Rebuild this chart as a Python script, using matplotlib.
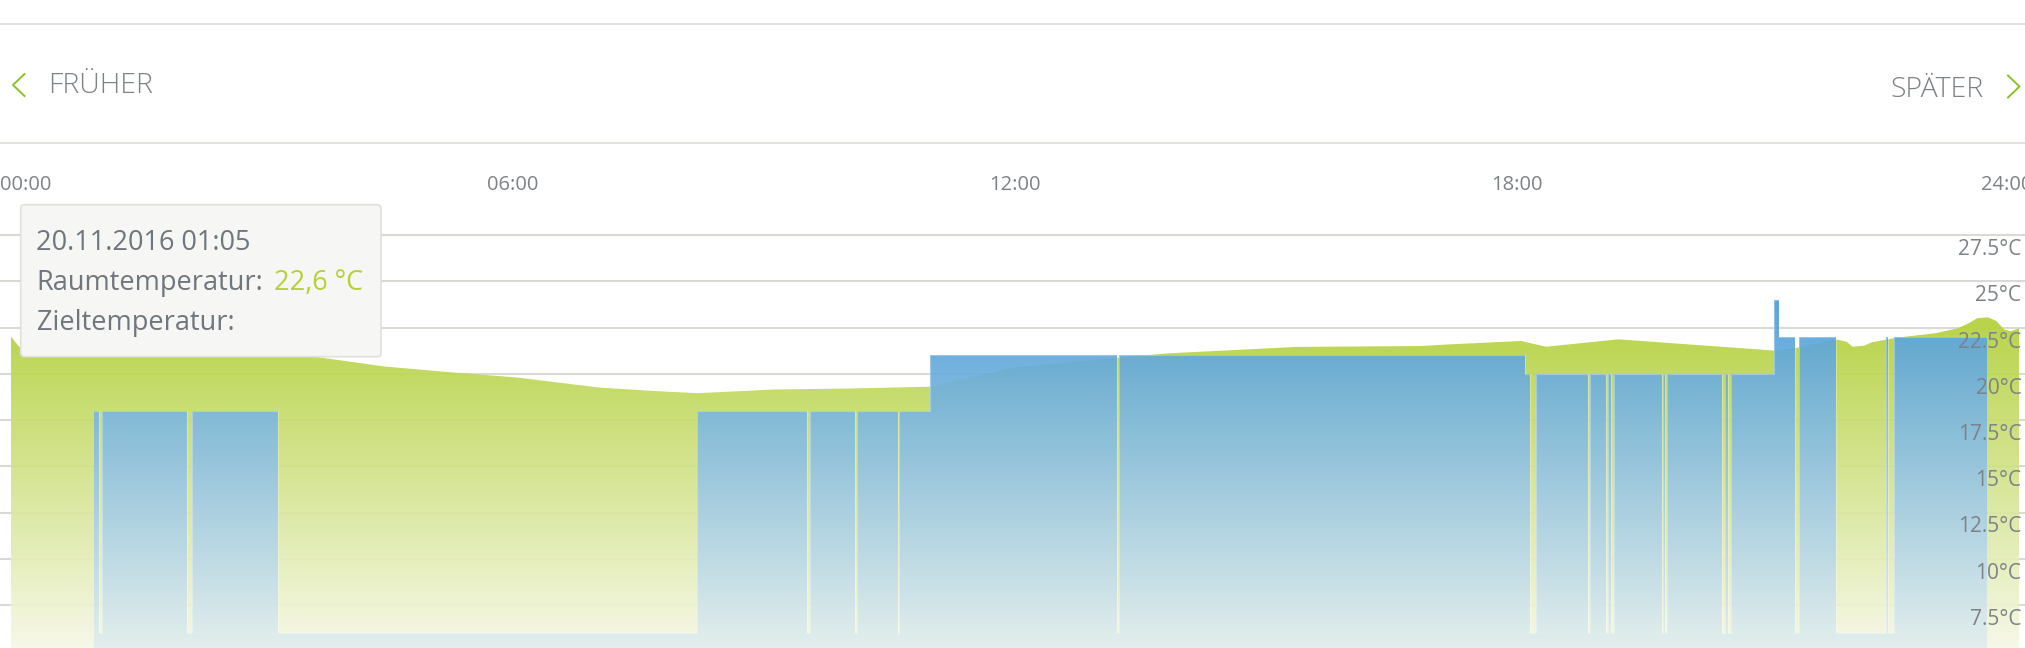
import numpy as np
import matplotlib
matplotlib.use("Agg")
import matplotlib.pyplot as plt
from matplotlib.colors import to_rgb
from matplotlib.patches import FancyBboxPatch
from matplotlib.lines import Line2D
import matplotlib.transforms as mtransforms

# ---------------- data ----------------
room_hours = [0.0, 0.1, 1.0, 2.0, 3.0, 3.66, 4.45, 5.2, 6.04, 7.04, 7.68, 8.2, 9.13,
              10.0, 10.98, 12.0, 13.2, 13.82, 15.36, 16.85, 17.2, 18.05, 18.35, 19.21,
              20.87, 21.07, 21.31, 21.81, 21.94, 22.01, 22.15, 22.24, 22.54, 23.0,
              23.27, 23.4, 23.5, 23.63, 23.73, 23.82, 23.9, 24.0]
room_temp = [22.0, 21.45, 21.35, 21.2, 21.05, 20.9, 20.4, 20.1, 19.8, 19.25, 19.07, 18.95, 19.15,
             19.2, 19.3, 20.35, 20.85, 21.1, 21.45, 21.5, 21.59, 21.77, 21.46, 21.86,
             21.32, 21.25, 21.37, 21.86, 21.73, 21.46, 21.52, 21.7, 21.95, 22.19,
             22.46, 22.73, 23.0, 23.05, 22.85, 22.4, 22.3, 22.45]

target_start_hours = [0.996, 1.052, 1.084, 2.104, 2.163, 3.188, 8.199, 9.510, 9.547, 10.092,
                      10.108, 10.599, 10.613, 10.984, 13.219, 13.243, 18.091, 18.155, 18.232,
                      18.843, 18.873, 19.068, 19.086, 19.123, 19.163, 19.730, 19.747, 19.773,
                      19.798, 20.456, 20.481, 20.521, 20.563, 21.075, 21.134, 21.317, 21.370,
                      21.809, 22.415, 22.437, 22.502]
target_temp = [18, 6, 18, 6, 18, 6, 18, 6, 18, 6,
               18, 6, 18, 21, 6, 21, 20, 6, 20,
               6, 20, 6, 20, 6, 20, 6, 20, 6,
               20, 6, 20, 6, 20, 24, 22, 6, 22,
               6, 22, 6, 22]
target_end_hour = 23.616

y_ticks = [7.5, 10, 12.5, 15, 17.5, 20, 22.5, 25, 27.5]
y_tick_labels = ["7.5°C", "10°C", "12.5°C", "15°C", "17.5°C", "20°C", "22.5°C", "25°C", "27.5°C"]
x_ticks = [0, 6, 12, 18, 24]
x_tick_labels = ["00:00", "06:00", "12:00", "18:00", "24:00"]

tooltip_date = "20.11.2016 01:05"
tooltip_room_label = "Raumtemperatur:"
tooltip_room_value = "22,6 °C"
tooltip_target_label = "Zieltemperatur:"
nav_prev = "FRÜHER"
nav_next = "SPÄTER"

# ---------------- style ----------------
plt.rcParams['font.family'] = ['Open Sans', 'DejaVu Sans']
W, H = 2025, 648
GRAY = "#7d8287"
GRID = "#dadad4"
ACCENT = "#8cc220"

fig = plt.figure(figsize=(W / 100, H / 100), dpi=100)
fig.patch.set_facecolor("white")
# pixel (top-down) transform
T = mtransforms.Affine2D().scale(1 / W, -1 / H).translate(0, 1) + fig.transFigure

# plot geometry (pixels)
PX0, PX24 = 11, 2019
PY275, PPD = 235, 18.5
AX_TOP = 215
px_per_h = (PX24 - PX0) / 24
xlim = (-PX0 / px_per_h, 24 + (W - PX24) / px_per_h)
ylim = (27.5 - (H - PY275) / PPD, 27.5 + (PY275 - AX_TOP) / PPD)

ax = fig.add_axes([0, 0, 1, (H - AX_TOP) / H])
ax.set_axis_off()

for v in y_ticks:
    ax.axhline(v, color=GRID, lw=1.5, zorder=0)


def gradient_fill(poly, x0, x1, ybot, ytop, c_top, c_bot, z, alpha):
    n = 256
    t = np.linspace(0, 1, n)[:, None]
    c0 = np.array(to_rgb(c_bot))
    c1 = np.array(to_rgb(c_top))
    rgb = c0 + (c1 - c0) * t
    img = np.concatenate([rgb, np.full((n, 1), alpha)], axis=1)[:, None, :]
    im = ax.imshow(img, extent=(x0, x1, ybot, ytop), origin="lower", aspect="auto",
                   interpolation="bilinear", zorder=z)
    im.set_clip_path(poly.get_paths()[0], transform=ax.transData)
    return im


# room temperature area
rx = np.array(room_hours)
ry = np.array(room_temp)
gpoly = ax.fill_between(rx, ry, ylim[0], facecolor="none", edgecolor="none", zorder=1)
gradient_fill(gpoly, rx.min(), rx.max(), ylim[0], ry.max(), "#b2d038", "#f6f8e6", 1, 0.92)

# target temperature step area
bx = np.array(target_start_hours + [target_end_hour])
by = np.array(target_temp + [target_temp[-1]], dtype=float)
bpoly = ax.fill_between(bx, by, ylim[0], step="post", facecolor="none", edgecolor="none", zorder=2)
gradient_fill(bpoly, bx.min(), bx.max(), ylim[0], by.max(), "#4b9cd9", "#e2eeee", 2, 0.92)
ax.step(bx, by, where="post", color="white", lw=0.8, alpha=0.3, zorder=3)

ax.set_xlim(*xlim)
ax.set_ylim(*ylim)

# y labels (inside, right)
ytrans = mtransforms.offset_copy(
    mtransforms.blended_transform_factory(ax.transAxes, ax.transData),
    fig=fig, x=0, y=-20, units="dots")
for v, lab in zip(y_ticks, y_tick_labels):
    ax.text(2021.5 / W, v, lab, transform=ytrans, ha="right", va="baseline",
            fontsize=15, color=GRAY, zorder=5)

# x labels (above plot)
xtrans = mtransforms.blended_transform_factory(ax.transData, T)
for h, lab in zip(x_ticks, x_tick_labels):
    if h == x_ticks[0]:
        fig.text(0 / W, 1 - 190 / H, lab, ha="left", va="baseline", fontsize=14.5, color=GRAY)
    elif h == x_ticks[-1]:
        fig.text(1981 / W, 1 - 190 / H, lab, ha="left", va="baseline", fontsize=14.5, color=GRAY)
    else:
        fig.text(h, 190, lab, transform=xtrans, ha="center", va="baseline", fontsize=14.5,
                 color=GRAY)

# header
for yy in (24, 142.5):
    fig.add_artist(Line2D([0, W], [yy, yy], transform=T, color="#e3e3de", lw=1.5))
fig.add_artist(Line2D([24.5, 13, 24.5], [74, 85, 96], transform=T, color=ACCENT, lw=1.4))
fig.add_artist(Line2D([2008, 2019.5, 2008], [75.5, 86.5, 97.5], transform=T, color=ACCENT, lw=1.4))
fig.text(48, 93, nav_prev, transform=T, ha="left", va="baseline", fontsize=20.5,
         color=GRAY, fontweight="light")
fig.text(1984, 97, nav_next, transform=T, ha="right", va="baseline", fontsize=20.5,
         color=GRAY, fontweight="light")

# tooltip
box = FancyBboxPatch((20.7, 204.7), 360.3, 152, boxstyle="round,pad=0,rounding_size=4",
                     transform=T, facecolor="#f6f6f4", edgecolor="#e0e0dc", lw=1.2, zorder=10)
fig.add_artist(box)
TT = "#6f767c"
fig.text(36.5, 250, tooltip_date, transform=T, ha="left", va="baseline", fontsize=19.5,
         color=TT, zorder=11)
fig.text(36.5, 290, tooltip_room_label, transform=T, ha="left", va="baseline", fontsize=19.5,
         color=TT, zorder=11)
fig.text(273.5, 290, tooltip_room_value, transform=T, ha="left", va="baseline", fontsize=19.5,
         color="#b6d036", zorder=11)
fig.text(36.5, 330, tooltip_target_label, transform=T, ha="left", va="baseline", fontsize=19.5,
         color=TT, zorder=11)

fig.savefig("out.png", dpi=100, facecolor="white")
